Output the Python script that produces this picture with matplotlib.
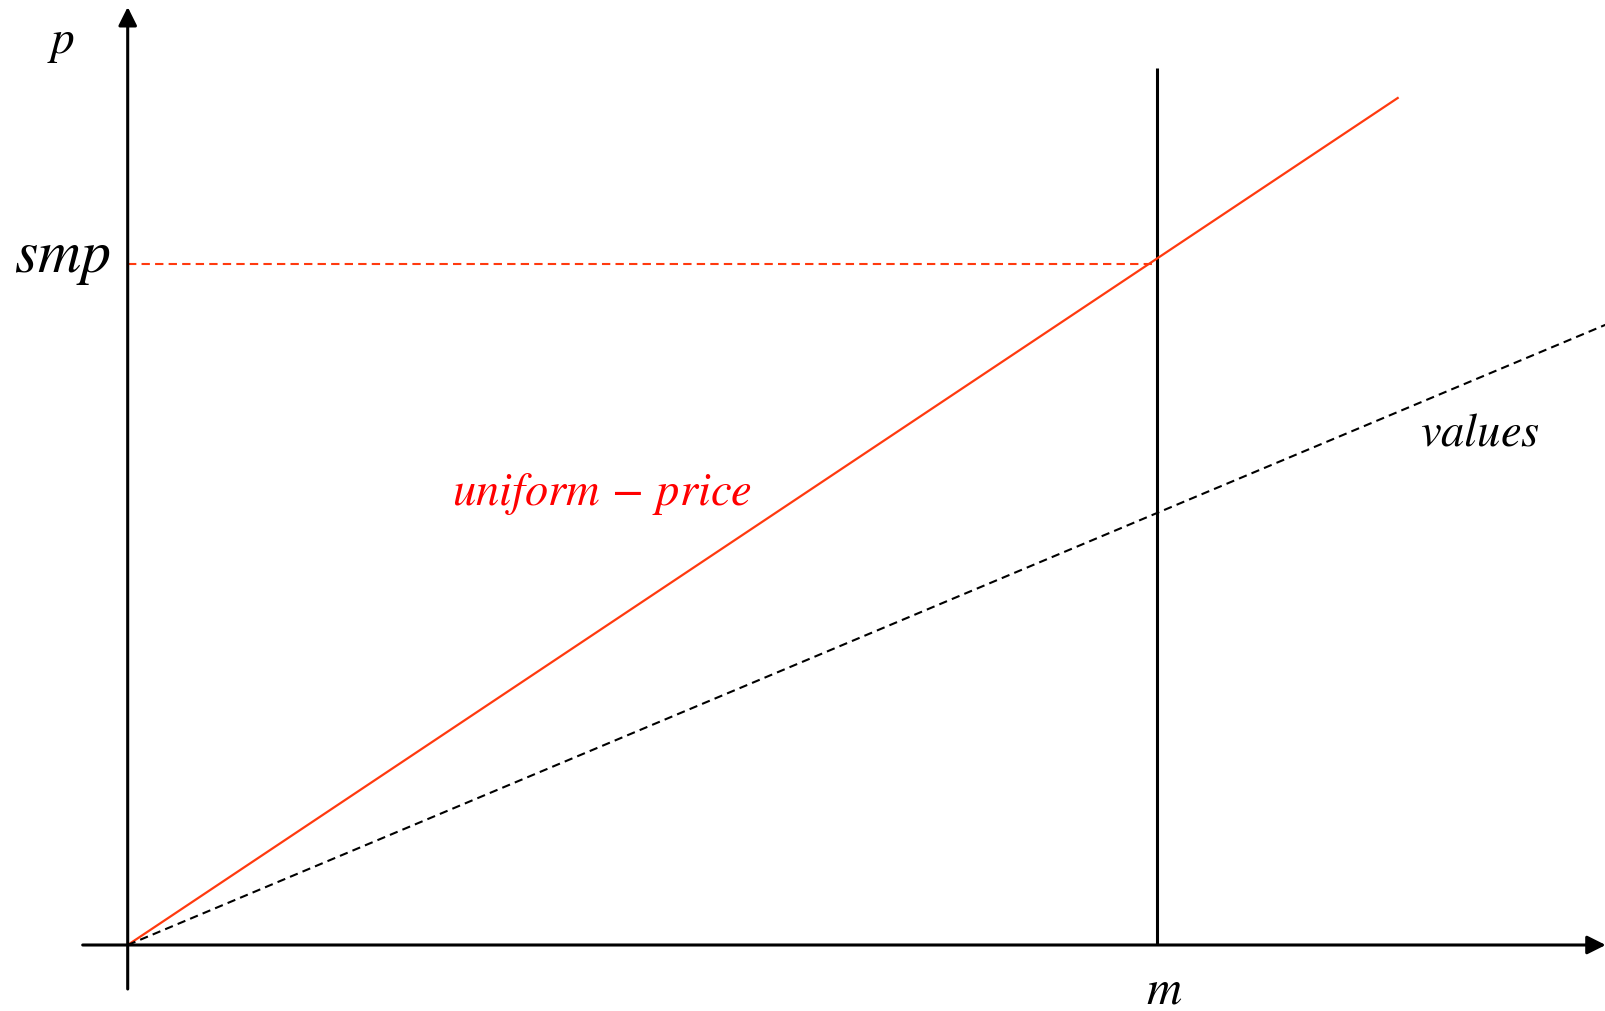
import matplotlib
matplotlib.use("Agg")
import matplotlib.pyplot as plt

plt.rcParams["mathtext.fontset"] = "stix"

# ---- data (in pixel-like units from the origin) ----
m_value = 1029            # quantity m
smp_value = 681.5         # system marginal price
uniform_x = [0, 1270]     # uniform-price offer line
uniform_y = [0, 847]
values_x = [0, 1478]      # values line
values_y = [0, 620.3]
x_axis_range = [-45, 1478]
y_axis_range = [-44, 938]
m_line_top = 877

labels = {"p": r"$p$", "smp": r"$smp$", "m": r"$m$", "values": r"$values$",
          "uniform": r"$uniform\,-\,price$"}

RED_LINE = "#FF3A0F"
RED_TEXT = "#FF0000"

fig = plt.figure(figsize=(16.06, 10.12), dpi=100)
ax = fig.add_axes([0, 0, 1, 1])
ax.set_xlim(-127.7, 1606 - 127.7)
ax.set_ylim(946 - 1012, 946)
ax.axis("off")

# axes with arrows
ax.annotate("", xy=(x_axis_range[1], 0), xytext=(x_axis_range[0], 0),
            arrowprops=dict(arrowstyle="-|>", lw=2.2, color="black",
                            mutation_scale=28, shrinkA=0, shrinkB=0))
ax.annotate("", xy=(0, y_axis_range[1]), xytext=(0, y_axis_range[0]),
            arrowprops=dict(arrowstyle="-|>", lw=2.2, color="black",
                            mutation_scale=28, shrinkA=0, shrinkB=0))

# vertical line at m
ax.plot([m_value, m_value], [0, m_line_top], color="black", lw=2.2,
        solid_capstyle="butt")

# uniform-price line
ax.plot(uniform_x, uniform_y, color=RED_LINE, lw=1.6)

# smp dashed
ax.plot([0, m_value], [smp_value, smp_value], color=RED_LINE, lw=1.5,
        linestyle=(0, (4, 2.5)))

# values dashed
ax.plot(values_x, values_y, color="black", lw=1.5, linestyle=(0, (4, 2.5)))

ax.text(-67, 893, labels["p"], fontsize=34, ha="center", va="baseline")
ax.text(-65.7, 674, labels["smp"], fontsize=43, ha="center", va="baseline")
ax.text(1036, -58, labels["m"], fontsize=35, ha="center", va="baseline")
ax.text(1292, 501, labels["values"], fontsize=33.5, ha="left", va="baseline")
ax.text(324, 441, labels["uniform"], fontsize=33.5, ha="left", va="baseline",
        color=RED_TEXT)

fig.savefig("out.png", dpi=100)
